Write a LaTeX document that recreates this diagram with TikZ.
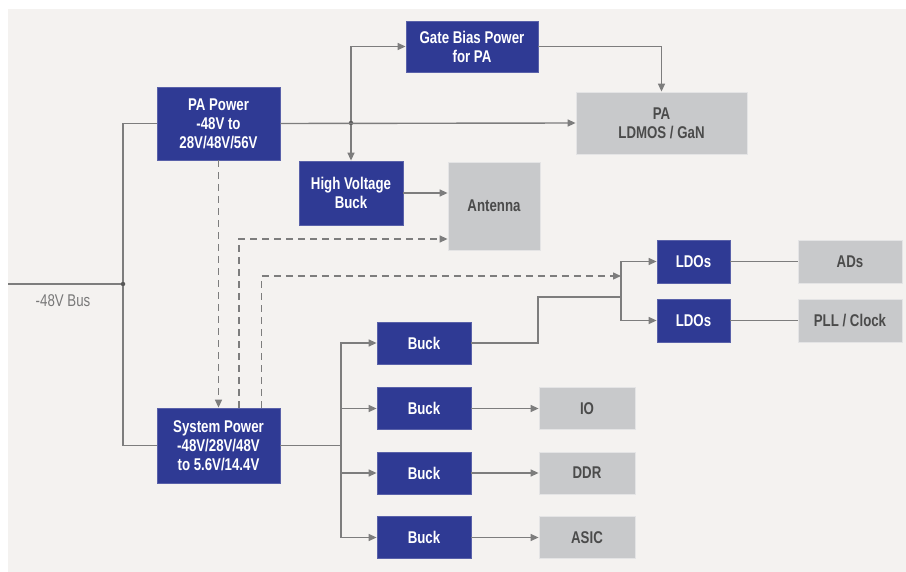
\documentclass[tikz,border=0pt]{standalone}
\usepackage{fontspec}
\setmainfont{Liberation Sans}[FakeStretch=0.78]
\usetikzlibrary{arrows.meta,positioning,calc}
\definecolor{bgcol}{RGB}{244,242,240}
\definecolor{bluebox}{RGB}{47,58,148}
\definecolor{greybox}{RGB}{200,201,203}
\definecolor{linecol}{RGB}{125,125,125}
\definecolor{txtgrey}{RGB}{75,75,75}

\begin{document}
\begin{tikzpicture}[x=1pt,y=-1pt,font=\fontsize{17}{19}\selectfont\bfseries,
				blk/.style={fill=bluebox,draw=bluebox!80!white,text=white,align=center,inner sep=0pt,line width=0.8pt},
				gry/.style={fill=greybox,draw=greybox!50!white,text=txtgrey,align=center,inner sep=0pt,line width=0.8pt},
				wire/.style={draw=linecol,line width=1.4pt},
				arr/.style={wire,-{Triangle[length=8pt,width=7pt]}},
				dsh/.style={arr,dash pattern=on 7pt off 5pt},
				dot/.style={circle,fill=linecol!70!black,inner sep=0pt,minimum size=4.5pt}]
				\useasboundingbox (0,0) rectangle (906,572);
				\fill[white] (0,0) rectangle (906,572);
				\fill[bgcol] (8,9) rectangle (906,572);
				% power stages
				\node[blk,minimum width=123,minimum height=73] (papow) at (218.5,123.5) {PA Power\\-48V to\\28V/48V/56V};
				\node[blk,minimum width=123,minimum height=75] (sys) at (218.5,445.5) {System Power\\-48V/28V/48V\\to 5.6V/14.4V};
				\node[blk,minimum width=132,minimum height=51] (gate) at (472,46.5) {Gate Bias Power\\for PA};
				\node[blk,minimum width=104,minimum height=64] (hvb) at (351,193) {High Voltage\\Buck};
				\node[gry,minimum width=171,minimum height=62] (pa) at (661.5,123) {PA\\LDMOS / GaN};
				\node[gry,minimum width=92,minimum height=88] (ant) at (494,206) {Antenna};
				\node[blk,minimum width=73,minimum height=43] (ldoa) at (693.5,261.5) {LDOs};
				\node[blk,minimum width=73,minimum height=43] (ldob) at (693.5,320.5) {LDOs};
				\node[gry,minimum width=104,minimum height=43] (ads) at (850,261.5) {ADs};
				\node[gry,minimum width=104,minimum height=43] (pll) at (850,320.5) {PLL / Clock};
				\foreach \n/\yy in {1/343,2/408.5,3/473,4/537.5}
					\node[blk,minimum width=94,minimum height=42] (buck\n) at (424,\yy) {Buck};
				\foreach \nm/\t/\yy in {io/IO/408.5,ddr/DDR/473,asic/ASIC/537.5}
					\node[gry,minimum width=96,minimum height=42] (\nm) at (587,\yy) {\t};
				\node[text=txtgrey!75,font=\fontsize{17}{19}\selectfont] (buslbl) at (63,301) {-48V Bus};
				% junctions
				\coordinate (busin) at (8,284);
				\node[dot] (bus) at (123,284) {};
				\node[dot] (ja) at (351,123) {};
				\coordinate (sb) at (341,445.5);
				\coordinate (spl) at (621,276);
				\coordinate (bk) at (538,297);
				% bus
				\draw[wire] (busin) -- (bus);
				\draw[wire] (bus) |- (papow.west);
				\draw[wire] (bus) |- (sys.west);
				% PA path
				\draw[arr] (papow.east) -- (pa.west);
				\draw[arr] (ja) |- (gate.west);
				\draw[arr] (ja) -- (hvb.north);
				\draw[arr] (gate.east) -| (pa.north);
				\draw[arr] (hvb.east) -- (hvb.east -| ant.west);
				% control
				\draw[dsh] (papow.south) -- (sys.north);
				\draw[dsh] ([xshift=20.5pt]sys.north) |- ([yshift=-33pt]ant.west);
				\draw[dsh] ([xshift=43pt]sys.north) |- (spl);
				% system rails
				\draw[wire] (sys.east) -- (sb);
				\foreach \n in {1,...,4}
					\draw[arr] (sb) |- (buck\n.west);
				\foreach \n/\nm in {2/io,3/ddr,4/asic}
					\draw[arr] (buck\n.east) -- (\nm.west);
				\draw[wire] (buck1.east) -| (bk) -- (bk -| spl);
				\draw[arr] (spl) |- (ldoa.west);
				\draw[arr] (spl) |- (ldob.west);
				\draw[wire] (ldoa.east) -- (ads.west);
				\draw[wire] (ldob.east) -- (pll.west);
			\end{tikzpicture}
\end{document}
